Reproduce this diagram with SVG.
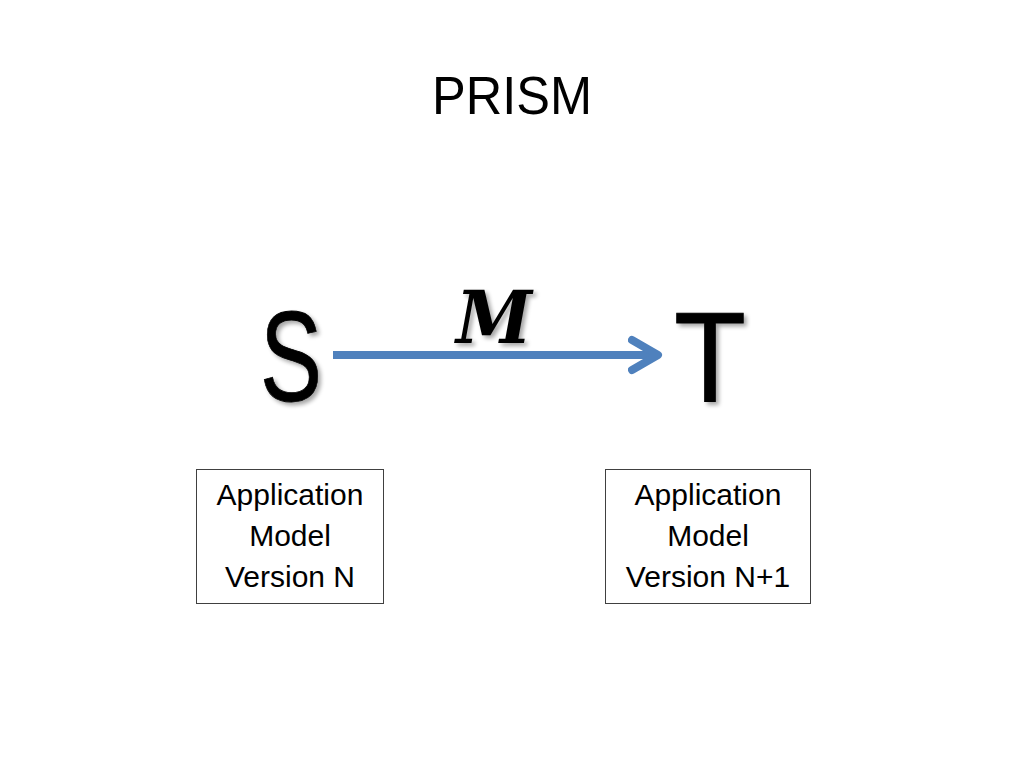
<svg xmlns="http://www.w3.org/2000/svg" width="1024" height="768" viewBox="0 0 1024 768">
  <style>
    .t { font-family: "Liberation Sans", Arial, sans-serif; fill: #000; text-anchor: middle; }
    .box { fill: #fff; stroke: #404040; stroke-width: 1; }
    .lbl { font-size: 30px; }
    .big { font-size: 128px; filter: url(#sh); }
  </style>
  <defs>
    <filter id="sh" x="-20%" y="-20%" width="150%" height="150%">
      <feGaussianBlur in="SourceAlpha" stdDeviation="2"/>
      <feOffset dx="3" dy="3" result="b"/>
      <feComponentTransfer><feFuncA type="linear" slope="0.35"/></feComponentTransfer>
      <feMerge><feMergeNode/><feMergeNode in="SourceGraphic"/></feMerge>
    </filter>
    <marker id="arr" markerUnits="userSpaceOnUse" markerWidth="40" markerHeight="40" refX="30" refY="20" orient="auto">
      <path d="M4,5 L30,20 L4,35" fill="none" stroke="#4F81BD" stroke-width="8" stroke-linecap="round" stroke-linejoin="round"/>
    </marker>
  </defs>
  <rect width="1024" height="768" fill="#fff"/>
  <text class="t" x="512" y="114" font-size="54" textLength="160" lengthAdjust="spacingAndGlyphs">PRISM</text>

  <g id="connectors">
    <line x1="333" y1="355" x2="658" y2="355" stroke="#4F81BD" stroke-width="8" marker-end="url(#arr)"/>
    <text x="494" y="343" font-family="DejaVu Serif, serif" font-style="italic" font-weight="bold" font-size="72" text-anchor="middle" textLength="76" lengthAdjust="spacingAndGlyphs" filter="url(#sh)">M</text>
  </g>

  <g id="S">
    <text class="t big" x="291" y="401" textLength="62" lengthAdjust="spacingAndGlyphs" stroke="#000" stroke-width="0.8">S</text>
  </g>
  <g id="T">
    <text class="t big" x="710" y="401" textLength="72" lengthAdjust="spacingAndGlyphs" stroke="#000" stroke-width="0.8">T</text>
  </g>

  <g id="boxN">
    <rect class="box" x="196.500" y="469.500" width="187" height="134"/>
    <text class="t lbl" x="290" y="505">Application</text>
    <text class="t lbl" x="290" y="546">Model</text>
    <text class="t lbl" x="290" y="587">Version N</text>
  </g>
  <g id="boxN1">
    <rect class="box" x="605.500" y="469.500" width="205" height="134"/>
    <text class="t lbl" x="708" y="505">Application</text>
    <text class="t lbl" x="708" y="546">Model</text>
    <text class="t lbl" x="708" y="587">Version N+1</text>
  </g>
</svg>
